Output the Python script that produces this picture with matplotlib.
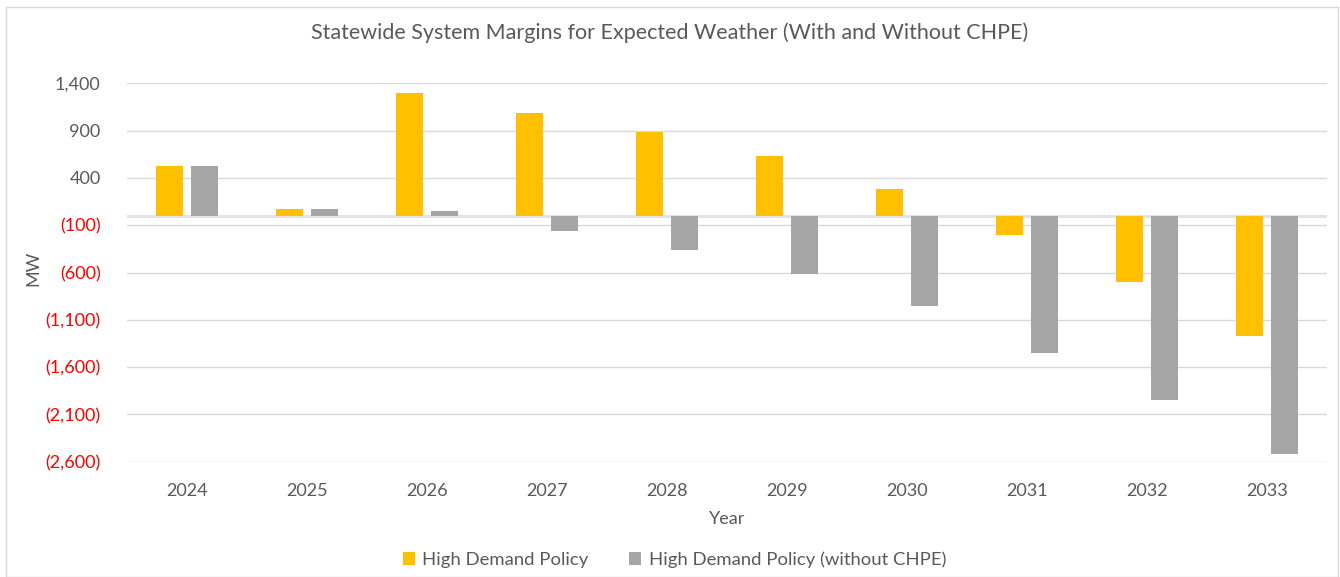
import matplotlib
matplotlib.use('Agg')
import matplotlib.pyplot as plt
from matplotlib.patches import Rectangle
from matplotlib.ticker import FuncFormatter
import numpy as np

years = ['2024', '2025', '2026', '2027', '2028', '2029', '2030', '2031', '2032', '2033']
high_demand = [525, 73, 1294, 1086, 885, 630, 288, -204, -698, -1270]
without_chpe = [525, 75, 46, -158, -366, -617, -955, -1453, -1950, -2520]
labels = ['High Demand Policy', 'High Demand Policy (without CHPE)']
yticks = [1400, 900, 400, -100, -600, -1100, -1600, -2100, -2600]

plt.rcParams['font.family'] = ['Lato', 'DejaVu Sans']
text_col = '#595959'

fig = plt.figure(figsize=(13.4, 5.77), dpi=100)
ax = fig.add_axes([0.0948, 0.1998, 0.8955, 0.6558])

x = np.arange(len(years))
w = 0.225
off = 0.142
ax.bar(x - off, high_demand, w, color='#FFC000', label=labels[0], zorder=3)
ax.bar(x + off, without_chpe, w, color='#A5A5A5', label=labels[1], zorder=3)

ax.set_xlim(-0.5, len(years) - 0.5)
ax.set_ylim(-2600, 1400)
ax.set_yticks(yticks)

def fmt(v, pos):
    if v < 0:
        return '({:,.0f})'.format(-v)
    return '{:,.0f}'.format(v)

ax.yaxis.set_major_formatter(FuncFormatter(fmt))
ax.set_xticks(x)
ax.set_xticklabels(years)
ax.tick_params(axis='y', length=0, pad=19, labelsize=13, colors=text_col)
ax.tick_params(axis='x', length=0, pad=15, labelsize=13, colors=text_col)
for t, v in zip(ax.get_yticklabels(), yticks):
    if v < 0:
        t.set_color('#FF0000')

ax.grid(axis='y', color='#d9d9d9', lw=1, zorder=0)
ax.axhline(0, color='#e3e3e3', lw=2.2, zorder=2)
for s in ax.spines.values():
    s.set_visible(False)

fig.text(0.5, 0.944, 'Statewide System Margins for Expected Weather (With and Without CHPE)',
         ha='center', va='center', fontsize=15.5, color=text_col)
ax.set_xlabel('Year', fontsize=13, color=text_col, labelpad=9)
fig.text(0.0246, 0.535, 'MW', rotation=90, ha='center', va='center', fontsize=13, color=text_col)

ax.legend(loc='center', ncol=2, frameon=False, fontsize=13.3, labelcolor=text_col,
          handlelength=0.65, handleheight=0.65, handletextpad=0.4, columnspacing=2.2)
leg = ax.get_legend()
leg.set_bbox_to_anchor((0.5035, 0.030), transform=fig.transFigure)

fig.patches.append(Rectangle((6 / 1340, 0), 1332 / 1340, 1 - 7 / 577, transform=fig.transFigure,
                             fill=False, edgecolor='#d9d9d9', lw=1))

fig.savefig('out.png', dpi=100)
